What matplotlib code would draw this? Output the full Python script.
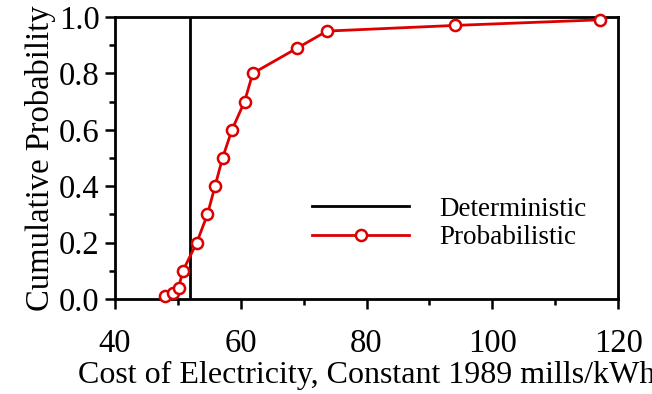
import matplotlib
matplotlib.use("Agg")
import matplotlib.pyplot as plt
from matplotlib.ticker import MultipleLocator

plt.rcParams['font.family'] = ['Liberation Serif', 'DejaVu Serif']

cost = [47.9, 49.2, 50.1, 50.8, 53.0, 54.7, 55.9, 57.1, 58.6, 60.6, 61.9, 69.0, 73.7, 94.0, 117.2]
prob = [0.01, 0.02, 0.04, 0.10, 0.20, 0.30, 0.40, 0.50, 0.60, 0.70, 0.80, 0.89, 0.95, 0.97, 0.99]
deterministic_cost = 52.0
det_y = [0.0, 1.0]

fig = plt.figure(figsize=(6.52, 3.94), dpi=100)
ax = fig.add_axes([0.1764, 0.2411, 0.948 - 0.1764, 0.9569 - 0.2411])

ax.plot([deterministic_cost, deterministic_cost], det_y, color='black', lw=2, label='Deterministic')
ax.plot(cost, prob, color='#dd0000', lw=2, marker='o', markersize=8,
        markerfacecolor='white', markeredgecolor='#dd0000', markeredgewidth=1.8,
        label='Probabilistic', clip_on=False, zorder=3)

ax.set_xlim(40, 120)
ax.set_ylim(0, 1.0)
ax.xaxis.set_major_locator(MultipleLocator(20))
ax.xaxis.set_minor_locator(MultipleLocator(10))
ax.yaxis.set_major_locator(MultipleLocator(0.2))
ax.yaxis.set_minor_locator(MultipleLocator(0.1))
ax.yaxis.set_major_formatter(plt.FuncFormatter(lambda v, p: f"{v:.1f}"))

for s in ax.spines.values():
    s.set_linewidth(2)
ax.tick_params(which='major', direction='out', length=7, width=1.8, labelsize=23.5, pad=4)
ax.tick_params(which='minor', direction='out', length=4, width=1.8)
ax.tick_params(axis='x', which='major', pad=14)

ax.set_xlabel('Cost of Electricity, Constant 1989 mills/kWh', fontsize=23, labelpad=2)
ax.set_ylabel('Cumulative Probability', fontsize=23.5, labelpad=2)

ax.legend(loc='lower left', bbox_to_anchor=(0.37, 0.135), frameon=False, fontsize=19.5,
          handlelength=3.6, handletextpad=1.1, labelspacing=0.12, borderaxespad=0)

fig.savefig('out.png', dpi=100)
